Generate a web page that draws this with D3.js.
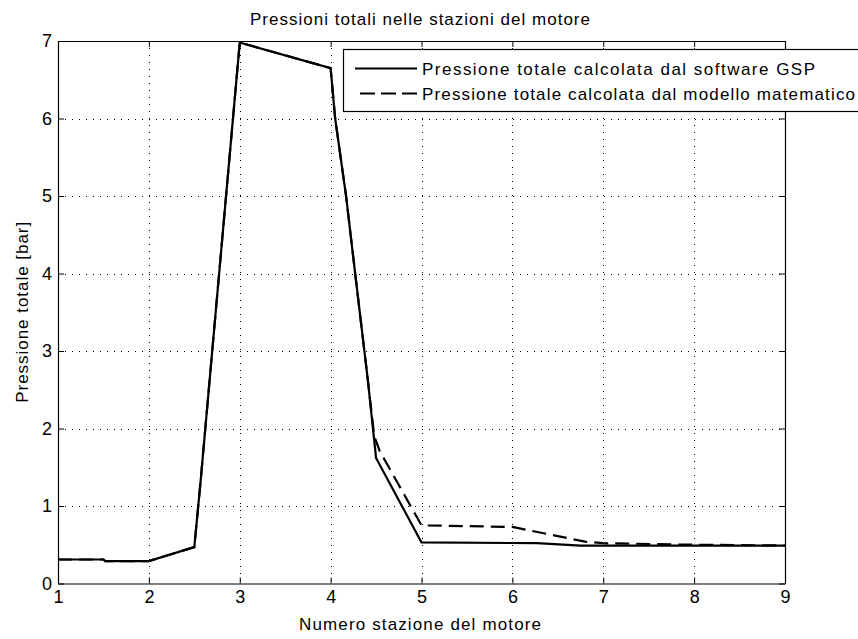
<!DOCTYPE html>
<html>
<head>
<meta charset="utf-8">
<script src="https://cdn.jsdelivr.net/npm/d3@7"></script>
<style>
  body { margin: 0; background: #fff; }
  text { font-family: "Liberation Sans Narrow", "Liberation Sans", Arial, sans-serif; fill: #000; }
</style>
</head>
<body>
<svg id="chart" width="858" height="639"></svg>
<script>
// stations / pressures
const stationsGSP = [1, 1.5, 1.52, 2, 2.5, 2.57, 3, 4, 4.05, 4.17, 4.27, 4.41, 4.5, 5, 6.27, 6.75, 9];
const pressGSP = [0.31, 0.31, 0.29, 0.29, 0.47, 1.33, 6.98, 6.65, 6.0, 5.0, 4.0, 2.62, 1.62, 0.53, 0.52, 0.49, 0.49];

const stationsModel = [1, 1.5, 1.52, 2, 2.5, 2.57, 3, 4, 4.05, 4.17, 4.27, 4.41, 4.48, 4.54, 5, 6, 6.8, 7, 8, 9];
const pressModel = [0.31, 0.31, 0.29, 0.29, 0.47, 1.33, 6.98, 6.65, 6.0, 5.0, 4.0, 2.62, 1.9, 1.71, 0.75, 0.73, 0.54, 0.52, 0.5, 0.49];

const xTicks = [1, 2, 3, 4, 5, 6, 7, 8, 9];
const yTicks = [0, 1, 2, 3, 4, 5, 6, 7];
const legendLabels = [
    'Pressione totale calcolata dal software GSP',
    'Pressione totale calcolata dal modello matematico'
];

const font = '"Liberation Sans Narrow", "Liberation Sans", Arial, sans-serif';
const svg = d3.select('#chart');
const x = d3.scaleLinear().domain([1, 9]).range([58, 785]);
const y = d3.scaleLinear().domain([0, 7]).range([583.5, 41]);

// grid
const grid = svg.append('g')
    .attr('stroke', '#000')
    .attr('stroke-width', 1)
    .attr('stroke-dasharray', '1,6');
grid.selectAll('.gx')
    .data(xTicks.slice(1, -1))
    .enter()
    .append('line')
    .attr('x1', (d) => Math.round(x(d)) + 0.5)
    .attr('x2', (d) => Math.round(x(d)) + 0.5)
    .attr('y1', y(7))
    .attr('y2', y(0));
grid.selectAll('.gy')
    .data(yTicks.slice(1, -1))
    .enter()
    .append('line')
    .attr('y1', (d) => Math.round(y(d)) + 0.5)
    .attr('y2', (d) => Math.round(y(d)) + 0.5)
    .attr('x1', x(1))
    .attr('x2', x(9));

// axes (ticks inside, on all four sides like matlab)
const fmt = d3.format('d');
const axBottom = svg.append('g')
    .attr('transform', `translate(0,${y(0)})`)
    .call(d3.axisBottom(x).tickValues(xTicks).tickFormat(fmt).tickSizeInner(-6).tickSizeOuter(0).tickPadding(7));
const axTop = svg.append('g')
    .attr('transform', `translate(0,${y(7)})`)
    .call(d3.axisTop(x).tickValues(xTicks).tickFormat('').tickSizeInner(-6).tickSizeOuter(0));
const axLeft = svg.append('g')
    .attr('transform', `translate(${x(1)},0)`)
    .call(d3.axisLeft(y).tickValues(yTicks).tickFormat(fmt).tickSizeInner(-6).tickSizeOuter(0).tickPadding(6));
const axRight = svg.append('g')
    .attr('transform', `translate(${x(9)},0)`)
    .call(d3.axisRight(y).tickValues(yTicks).tickFormat('').tickSizeInner(-6).tickSizeOuter(0));

[axBottom, axTop, axLeft, axRight].forEach((g) => {
    g.selectAll('.domain').attr('stroke', '#000').attr('stroke-width', 1.2);
    g.selectAll('.tick line').attr('stroke', '#000');
    g.selectAll('text')
        .style('font-family', font)
        .style('font-size', '18px')
        .attr('fill', '#000');
});

// series
const line = d3.line().x((d) => x(d[0])).y((d) => y(d[1]));
svg.append('path')
    .datum(d3.zip(stationsGSP, pressGSP))
    .attr('d', line)
    .attr('fill', 'none')
    .attr('stroke', '#000')
    .attr('stroke-width', 2.2);
svg.append('path')
    .datum(d3.zip(stationsModel, pressModel))
    .attr('d', line)
    .attr('fill', 'none')
    .attr('stroke', '#000')
    .attr('stroke-width', 2.2)
    .attr('stroke-dasharray', '14,7');

// legend
const legend = svg.append('g');
legend.append('rect')
    .attr('x', 343.5)
    .attr('y', 49.5)
    .attr('width', 520)
    .attr('height', 62)
    .attr('fill', '#fff')
    .attr('stroke', '#000')
    .attr('stroke-width', 1.2);
const rows = legend.selectAll('.row')
    .data(legendLabels)
    .enter()
    .append('g')
    .attr('transform', (d, i) => `translate(0,${68.5 + i * 25})`);
rows.append('line')
    .attr('x1', (d, i) => (i ? 360 : 355))
    .attr('x2', 417)
    .attr('stroke', '#000')
    .attr('stroke-width', 2.2)
    .attr('stroke-dasharray', (d, i) => (i ? '15,6' : null));
rows.append('text')
    .attr('x', 422)
    .attr('y', 6.5)
    .style('font-size', '17px')
    .attr('textLength', (d, i) => (i ? 433 : 393))
    .attr('lengthAdjust', 'spacing')
    .text((d) => d);

// titles
svg.append('text')
    .attr('x', 420)
    .attr('y', 25)
    .attr('text-anchor', 'middle')
    .style('font-size', '17px')
    .attr('textLength', 340)
    .attr('lengthAdjust', 'spacing')
    .text('Pressioni totali nelle stazioni del motore');
svg.append('text')
    .attr('x', 420)
    .attr('y', 630)
    .attr('text-anchor', 'middle')
    .style('font-size', '17px')
    .attr('textLength', 242)
    .attr('lengthAdjust', 'spacing')
    .text('Numero stazione del motore');
svg.append('text')
    .attr('transform', `translate(28,${(y(0) + y(7)) / 2}) rotate(-90)`)
    .attr('text-anchor', 'middle')
    .style('font-size', '17px')
    .attr('textLength', 181)
    .attr('lengthAdjust', 'spacing')
    .text('Pressione totale [bar]');
</script>
</body>
</html>
